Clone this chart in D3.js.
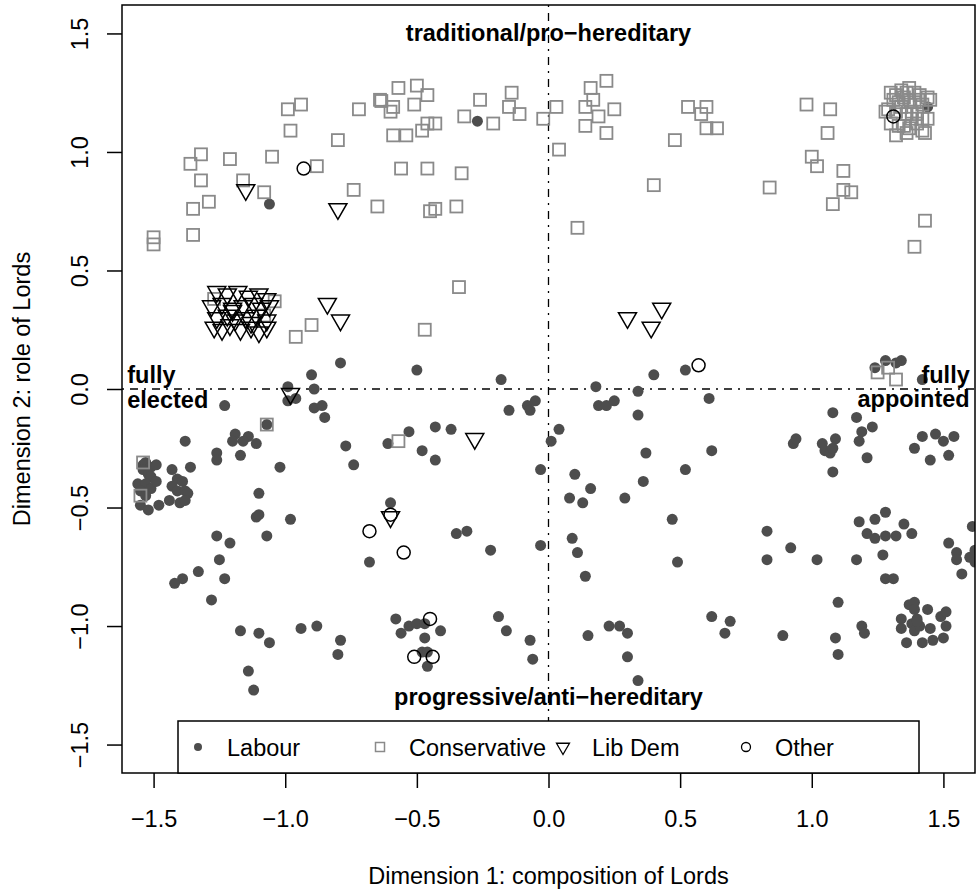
<!doctype html>
<html lang="en">
<head>
<meta charset="utf-8">
<title>Peers' preferences on Lords reform</title>
<script src="https://cdn.jsdelivr.net/npm/d3@7"></script>
<style>
  body { margin: 0; background: #fff; }
  svg text { font-family: "Liberation Sans", Arial, Helvetica, sans-serif; }
</style>
</head>
<body>
<div id="chart"></div>
<script>
// positions of peers on the two dimensions, by party
var labour = [
  [-1.06,0.78],[-0.27,1.13],[1.44,1.19],
  [-0.90,0.06],[-0.99,0.01],[-0.89,0.00],[-0.96,-0.04],[-0.99,-0.05],[-1.23,-0.07],[-0.89,-0.08],[-0.86,-0.07],
  [-0.85,-0.12],[-1.07,-0.15],[-1.19,-0.19],[-1.20,-0.22],[-1.14,-0.20],[-1.16,-0.22],[-1.11,-0.23],[-1.38,-0.22],
  [-1.26,-0.27],[-1.26,-0.30],[-1.17,-0.28],[-1.02,-0.33],[-1.10,-0.44],[-1.11,-0.54],[-1.10,-0.53],[-0.98,-0.55],
  [-1.54,-0.32],[-1.53,-0.31],[-1.51,-0.33],[-1.49,-0.32],[-1.54,-0.34],[-1.52,-0.36],[-1.51,-0.37],[-1.56,-0.40],
  [-1.53,-0.40],[-1.51,-0.42],[-1.49,-0.39],[-1.43,-0.34],[-1.36,-0.33],[-1.41,-0.38],[-1.39,-0.39],[-1.43,-0.41],
  [-1.41,-0.43],[-1.38,-0.43],[-1.37,-0.44],[-1.55,-0.43],[-1.53,-0.45],[-1.55,-0.49],[-1.52,-0.51],[-1.48,-0.49],
  [-1.44,-0.47],[-1.40,-0.48],[-1.38,-0.47],
  [-0.79,0.11],[-0.50,0.08],[-0.18,0.04],[-0.15,-0.09],[-0.08,-0.07],[-0.07,-0.09],[-0.05,-0.05],[-0.53,-0.18],
  [-0.43,-0.16],[-0.37,-0.17],[-0.61,-0.23],[-0.77,-0.24],[-0.74,-0.32],[-0.48,-0.26],[-0.43,-0.30],[0.04,-0.17],
  [0.01,-0.22],[-0.03,-0.34],[0.10,-0.36],[0.16,-0.42],[0.08,-0.46],[0.13,-0.48],[0.29,-0.46],[0.18,0.01],
  [0.19,-0.07],[0.22,-0.07],[0.25,-0.05],[-0.60,-0.48],[-0.35,-0.61],[-0.31,-0.60],[0.09,-0.63],
  [0.40,0.06],[0.52,0.08],[0.34,-0.01],[0.61,-0.04],[0.34,-0.11],[0.37,-0.27],[0.62,-0.26],[0.52,-0.34],
  [0.36,-0.39],[0.47,-0.55],[0.83,-0.60],
  [1.24,0.09],[1.28,0.12],[1.34,0.12],[1.32,0.11],[1.42,0.04],
  [1.08,-0.10],[1.17,-0.12],[1.19,-0.18],[1.23,-0.16],[1.18,-0.22],[1.21,-0.29],[1.09,-0.21],[0.93,-0.23],
  [0.94,-0.21],[1.04,-0.23],[1.05,-0.26],[1.07,-0.27],[1.08,-0.25],[1.08,-0.35],
  [1.42,-0.20],[1.47,-0.19],[1.50,-0.22],[1.54,-0.20],[1.39,-0.25],[1.45,-0.30],[1.52,-0.28],
  [1.28,-0.52],[1.24,-0.55],[1.18,-0.56],[1.35,-0.57],[1.21,-0.61],[1.24,-0.63],[1.28,-0.62],[1.32,-0.62],
  [1.38,-0.61],[1.61,-0.58],
  [-1.26,-0.62],[-1.21,-0.65],[-1.25,-0.72],[-1.33,-0.77],[-1.39,-0.80],[-1.42,-0.82],[-1.23,-0.80],[-1.28,-0.89],
  [-1.17,-1.02],[-1.10,-1.03],[-1.06,-1.07],[-0.94,-1.01],[-0.88,-1.00],[-1.14,-1.19],[-1.12,-1.27],[-1.07,-0.62],
  [-0.68,-0.73],[-0.22,-0.68],[-0.03,-0.66],[0.11,-0.69],[0.14,-0.79],
  [-0.79,-1.06],[-0.80,-1.12],[-0.58,-0.97],[-0.56,-1.03],[-0.53,-1.00],[-0.50,-0.99],[-0.47,-0.99],[-0.41,-1.02],
  [-0.47,-1.05],[-0.48,-1.11],[-0.46,-1.11],[-0.46,-1.17],[-0.19,-0.96],[-0.16,-1.02],[-0.07,-1.06],[-0.06,-1.14],
  [0.15,-1.04],[0.23,-1.00],[0.27,-1.00],[0.30,-1.03],[0.30,-1.13],
  [0.49,-0.73],[0.83,-0.72],[0.92,-0.67],[1.02,-0.72],[1.17,-0.72],[1.27,-0.70],[1.28,-0.80],[1.31,-0.80],
  [1.52,-0.65],[1.55,-0.69],[1.55,-0.72],[1.60,-0.71],[1.62,-0.68],[1.57,-0.78],[1.62,-0.73],
  [0.34,-1.23],[0.62,-0.96],[0.69,-0.98],[0.67,-1.03],[0.89,-1.04],[1.10,-0.90],[1.09,-1.05],[1.10,-1.12],
  [1.19,-1.00],[1.20,-1.03],
  [1.37,-0.91],[1.39,-0.90],[1.44,-0.93],[1.34,-0.97],[1.40,-0.97],[1.49,-0.96],[1.51,-0.94],[1.34,-1.01],
  [1.38,-0.99],[1.39,-1.02],[1.41,-1.00],[1.45,-1.01],[1.51,-1.00],[1.36,-1.07],[1.42,-1.07],[1.46,-1.06],
  [1.50,-1.05],[1.39,-0.93],[1.40,-0.98]
];

var conservative = [
  [-0.99,1.18],[-0.94,1.20],[-0.98,1.09],[-1.36,0.95],[-1.32,0.99],[-1.21,0.97],[-1.05,0.98],[-0.88,0.94],
  [-1.32,0.88],[-1.16,0.88],[-1.08,0.83],[-1.35,0.76],[-1.29,0.79],[-1.35,0.65],[-1.50,0.64],[-1.50,0.61],
  [-0.72,1.18],[-0.64,1.22],[-0.635,1.215],[-0.59,1.19],[-0.60,1.17],[-0.57,1.27],[-0.50,1.28],[-0.46,1.24],
  [-0.51,1.20],[-0.26,1.22],[-0.14,1.25],[-0.32,1.15],[-0.21,1.12],[-0.15,1.19],[-0.11,1.16],[-0.02,1.14],
  [-0.59,1.07],[-0.54,1.07],[-0.48,1.09],[-0.46,1.12],[-0.43,1.12],[-0.80,1.05],[-0.56,0.93],[-0.46,0.93],
  [-0.33,0.91],[-0.74,0.84],[-0.65,0.77],[-0.45,0.75],[-0.43,0.76],[-0.35,0.77],[-0.34,0.43],
  [0.03,1.19],[0.16,1.27],[0.22,1.30],[0.17,1.22],[0.14,1.19],[0.19,1.15],[0.25,1.18],[0.14,1.11],
  [0.22,1.08],[0.04,1.01],[0.11,0.68],
  [0.53,1.19],[0.60,1.19],[0.58,1.16],[0.60,1.10],[0.64,1.10],[0.48,1.05],[0.40,0.86],
  [0.98,1.20],[1.07,1.18],[1.06,1.08],[1.00,0.98],[1.02,0.94],[1.12,0.92],[0.84,0.85],[1.12,0.84],
  [1.15,0.83],[1.08,0.78],[1.43,0.71],[1.39,0.60],
  [1.30,1.25],[1.32,1.24],[1.34,1.26],[1.36,1.25],[1.37,1.27],[1.39,1.25],[1.41,1.24],[1.44,1.23],
  [1.31,1.22],[1.33,1.21],[1.35,1.23],[1.37,1.22],[1.39,1.21],[1.41,1.22],[1.42,1.20],[1.45,1.22],
  [1.29,1.18],[1.32,1.17],[1.34,1.19],[1.36,1.16],[1.38,1.17],[1.40,1.16],[1.42,1.14],[1.44,1.14],
  [1.30,1.12],[1.33,1.11],[1.35,1.11],[1.37,1.10],[1.40,1.12],[1.42,1.09],[1.32,1.07],[1.36,1.08],
  [1.43,1.08],[1.38,1.14],[1.28,1.17],
  [-1.27,0.38],[-1.04,0.37],[-1.08,0.31],[-0.90,0.27],[-0.96,0.22],[-0.47,0.25],
  [-0.57,-0.22],[-1.07,-0.15],[-1.54,-0.31],[-1.55,-0.45],[1.25,0.07],[1.29,0.09],[1.32,0.04]
];

var libDem = [
  [-1.15,0.84],[-0.80,0.76],[-0.84,0.36],[-0.79,0.29],[0.30,0.30],[0.39,0.26],[0.43,0.34],[-0.28,-0.21],
  [-0.60,-0.54],[-0.98,-0.02],
  [-1.26,0.41],[-1.22,0.40],[-1.18,0.41],[-1.14,0.39],[-1.10,0.40],[-1.07,0.38],
  [-1.28,0.35],[-1.24,0.36],[-1.20,0.34],[-1.16,0.35],[-1.12,0.36],[-1.09,0.34],[-1.06,0.35],
  [-1.26,0.30],[-1.22,0.31],[-1.19,0.29],[-1.15,0.30],[-1.11,0.31],[-1.07,0.29],
  [-1.27,0.26],[-1.24,0.25],[-1.21,0.27],[-1.17,0.25],[-1.13,0.26],[-1.10,0.24],[-1.07,0.26],
  [-1.20,0.33],[-1.13,0.28]
];

var other = [
  [-0.93,0.93],[1.31,1.15],[0.57,0.10],[-0.60,-0.53],[-0.68,-0.60],[-0.55,-0.69],[-0.45,-0.97],
  [-0.51,-1.13],[-0.44,-1.13]
];

var tickValues = [-1.5, -1.0, -0.5, 0.0, 0.5, 1.0, 1.5];
var partyNames = ["Labour", "Conservative", "Lib Dem", "Other"];

var width = 977, height = 894;
var fontSize = "23.5px";

var svg = d3.select("#chart").append("svg")
    .attr("width", width)
    .attr("height", height);

var x = d3.scaleLinear().domain([-1.62, 1.62]).range([122, 975]);
var y = d3.scaleLinear().domain([-1.62, 1.62]).range([773, 5]);
var fmt = d3.format(".1f");

svg.append("clipPath").attr("id", "plotclip")
  .append("rect")
    .attr("x", x(-1.62)).attr("y", y(1.62))
    .attr("width", x(1.62) - x(-1.62))
    .attr("height", y(-1.62) - y(1.62));

// axes
var xAxis = svg.append("g")
    .attr("transform", "translate(0," + y(-1.62) + ")")
    .call(d3.axisBottom(x).tickValues(tickValues).tickSize(15).tickPadding(22).tickFormat(fmt));

var yAxis = svg.append("g")
    .attr("transform", "translate(" + x(-1.62) + ",0)")
    .call(d3.axisLeft(y).tickValues(tickValues).tickSize(15).tickFormat(fmt));

[xAxis, yAxis].forEach(function(g) {
  g.select(".domain").remove();
  g.selectAll(".tick line").attr("stroke", "#000").attr("stroke-width", 1.5);
  g.selectAll(".tick text").attr("fill", "#000").style("font-size", fontSize);
});

yAxis.selectAll(".tick text")
    .attr("x", null).attr("dy", "0.35em")
    .attr("text-anchor", "middle")
    .attr("transform", "translate(-42,0) rotate(-90)");

// reference lines through the origin
var dotdash = "2,6,8,6";
var refs = svg.append("g").attr("stroke", "#000").attr("stroke-width", 1.3).attr("stroke-dasharray", dotdash);
refs.append("line")
    .attr("x1", x(-1.62)).attr("x2", x(1.62))
    .attr("y1", y(0)).attr("y2", y(0));
refs.append("line")
    .attr("x1", x(0)).attr("x2", x(0))
    .attr("y1", y(1.62)).attr("y2", y(-1.62));

// marker shapes
function tri(cx, cy, r) {
  var xc = r * Math.sqrt(3) / 2, yc = r / 2;
  return "M" + cx + "," + (cy + r) + "L" + (cx + xc) + "," + (cy - yc) + "L" + (cx - xc) + "," + (cy - yc) + "Z";
}

var pts = svg.append("g").attr("clip-path", "url(#plotclip)");

pts.selectAll("circle.lab")
  .data(labour)
  .join("circle")
    .attr("class", "lab")
    .attr("cx", d => x(d[0]))
    .attr("cy", d => y(d[1]))
    .attr("r", 5.5)
    .attr("fill", "#4d4d4d");

pts.selectAll("rect.con")
  .data(conservative)
  .join("rect")
    .attr("class", "con")
    .attr("x", d => x(d[0]) - 6)
    .attr("y", d => y(d[1]) - 6)
    .attr("width", 12)
    .attr("height", 12)
    .attr("fill", "none")
    .attr("stroke", "#8a8a8a")
    .attr("stroke-width", 1.8);

pts.selectAll("path.ld")
  .data(libDem)
  .join("path")
    .attr("class", "ld")
    .attr("d", d => tri(x(d[0]), y(d[1]), 10.4))
    .attr("fill", "none")
    .attr("stroke", "#000")
    .attr("stroke-width", 1.5);

pts.selectAll("circle.oth")
  .data(other)
  .join("circle")
    .attr("class", "oth")
    .attr("cx", d => x(d[0]))
    .attr("cy", d => y(d[1]))
    .attr("r", 6.5)
    .attr("fill", "none")
    .attr("stroke", "#000")
    .attr("stroke-width", 1.5);

// plot frame
svg.append("rect")
    .attr("x", x(-1.62)).attr("y", y(1.62))
    .attr("width", x(1.62) - x(-1.62))
    .attr("height", y(-1.62) - y(1.62))
    .attr("fill", "none")
    .attr("stroke", "#000")
    .attr("stroke-width", 1.5);

// end labels
function bold(tx, ty, s, anchor) {
  svg.append("text")
      .attr("x", tx).attr("y", ty)
      .attr("text-anchor", anchor)
      .style("font-size", fontSize)
      .style("font-weight", "bold")
      .text(s);
}
bold(x(0), y(1.5) + 8, "traditional/pro\u2212hereditary", "middle");
bold(x(0), y(-1.3) + 8, "progressive/anti\u2212hereditary", "middle");
bold(x(-1.6), y(0) - 6, "fully", "start");
bold(x(-1.6), y(0) + 19, "elected", "start");
bold(x(1.6), y(0) - 6, "fully", "end");
bold(x(1.6), y(0) + 18, "appointed", "end");

// axis titles
svg.append("text")
    .attr("x", x(0)).attr("y", 884)
    .attr("text-anchor", "middle")
    .style("font-size", fontSize)
    .text("Dimension 1: composition of Lords");

svg.append("text")
    .attr("transform", "translate(22," + y(0) + ") rotate(-90)")
    .attr("dy", "0.35em")
    .attr("text-anchor", "middle")
    .style("font-size", fontSize)
    .text("Dimension 2: role of Lords");

// legend
var legend = svg.append("g");
legend.append("rect")
    .attr("x", 178).attr("y", 721)
    .attr("width", 741).attr("height", 52)
    .attr("fill", "#fff")
    .attr("stroke", "#000")
    .attr("stroke-width", 1.5);

var symX = [198, 380, 563, 746], ly = 747;
legend.append("circle").attr("cx", symX[0]).attr("cy", ly).attr("r", 4).attr("fill", "#4d4d4d");
legend.append("rect").attr("x", symX[1] - 4.5).attr("y", ly - 4.5).attr("width", 9).attr("height", 9)
    .attr("fill", "none").attr("stroke", "#8a8a8a").attr("stroke-width", 1.5);
legend.append("path").attr("d", tri(symX[2], ly, 7.5))
    .attr("fill", "none").attr("stroke", "#000").attr("stroke-width", 1.3);
legend.append("circle").attr("cx", symX[3]).attr("cy", ly).attr("r", 4.5)
    .attr("fill", "none").attr("stroke", "#000").attr("stroke-width", 1.3);

legend.selectAll("text.lg")
  .data(partyNames)
  .join("text")
    .attr("class", "lg")
    .attr("x", (d, i) => symX[i] + 29)
    .attr("y", ly + 8.5)
    .style("font-size", fontSize)
    .text(d => d);
</script>
</body>
</html>
